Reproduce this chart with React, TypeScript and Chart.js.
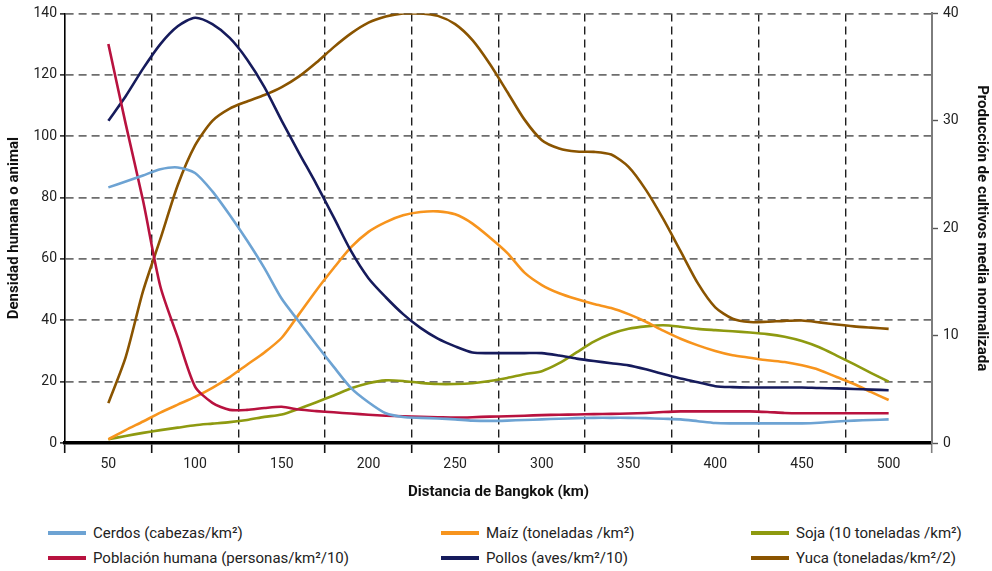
import React, { useEffect, useRef } from "react";
import { Chart, registerables } from "chart.js";

Chart.register(...registerables);

// Distance from Bangkok (km)
const distances = [
  50, 60, 70, 80, 90, 100, 110, 120, 130, 140, 150, 160, 170, 180, 190, 200,
  210, 220, 230, 240, 250, 260, 270, 280, 290, 300, 310, 320, 330, 340, 350,
  360, 370, 380, 390, 400, 410, 420, 430, 440, 450, 460, 470, 480, 490, 500,
];

const xTickLabels = [50, 100, 150, 200, 250, 300, 350, 400, 450, 500];
const xBoundaries = [25, 75, 125, 175, 225, 275, 325, 375, 425, 475, 525];

// Left axis (Densidad humana o animal)
const cerdos = [
  83.3, 85.2, 87.2, 89.2, 89.8, 88, 82, 74.3, 66, 57, 47, 39.5, 32, 24.8, 17.9,
  13.3, 9.7, 8.5, 8.2, 8, 7.7, 7.3, 7.2, 7.3, 7.5, 7.7, 7.9, 8.1, 8.2, 8.2, 8.2,
  8.1, 7.9, 7.7, 7.1, 6.5, 6.4, 6.4, 6.4, 6.4, 6.4, 6.6, 7.0, 7.3, 7.5, 7.7,
];

const poblacion = [
  130, 104, 79, 51, 34.5, 18.4, 13.1, 10.8, 10.8, 11.4, 11.8, 10.9, 10.4, 10,
  9.6, 9.2, 8.9, 8.7, 8.5, 8.4, 8.3, 8.4, 8.6, 8.7, 8.9, 9.1, 9.2, 9.3, 9.4,
  9.5, 9.6, 9.8, 10.1, 10.3, 10.3, 10.3, 10.3, 10.3, 10.1, 9.8, 9.7, 9.7, 9.7,
  9.7, 9.7, 9.7,
];

const pollos = [
  105, 113, 122, 130, 135.8, 138.6, 136.5, 132, 125, 116, 105, 94.5, 84.3, 73.5,
  62.5, 53.7, 47.5, 42, 37.5, 34, 31.5, 29.5, 29.3, 29.3, 29.3, 29.3, 28.5,
  27.5, 26.7, 26, 25.3, 24, 22.5, 21, 19.8, 18.5, 18.2, 18.1, 18.1, 18.1, 18.1,
  17.9, 17.8, 17.6, 17.4, 17.2,
];

// Right axis (Producción de cultivos media normalizada)
const maiz = [
  0.34, 1.2, 2.0, 2.83, 3.57, 4.29, 5.14, 6.14, 7.29, 8.43, 9.8, 12.0, 14.23,
  16.29, 18.23, 19.66, 20.57, 21.2, 21.51, 21.57, 21.29, 20.43, 19.14, 17.71,
  15.86, 14.71, 13.94, 13.4, 12.94, 12.57, 12.0, 11.29, 10.46, 9.71, 9.09, 8.57,
  8.17, 7.94, 7.71, 7.54, 7.23, 6.8, 6.14, 5.49, 4.74, 4.0,
];

const soja = [
  0.34, 0.66, 0.94, 1.2, 1.43, 1.66, 1.8, 1.94, 2.14, 2.43, 2.66, 3.2, 3.8,
  4.43, 5.09, 5.57, 5.83, 5.77, 5.6, 5.49, 5.49, 5.57, 5.77, 6.06, 6.4, 6.69,
  7.43, 8.43, 9.43, 10.17, 10.63, 10.86, 10.97, 10.83, 10.63, 10.51, 10.4,
  10.29, 10.14, 9.89, 9.49, 8.91, 8.14, 7.34, 6.51, 5.71,
];

const yuca = [
  3.71, 8.0, 14.14, 19.0, 24.0, 27.71, 30.0, 31.14, 31.8, 32.4, 33.14, 34.14,
  35.43, 36.86, 38.14, 39.14, 39.71, 40.0, 40.0, 39.77, 39.0, 37.51, 35.29,
  32.71, 30.11, 28.2, 27.43, 27.14, 27.11, 26.86, 25.71, 23.57, 20.86, 17.86,
  14.86, 12.63, 11.57, 11.26, 11.29, 11.37, 11.4, 11.23, 11.03, 10.86, 10.74,
  10.63,
];

const seriesNames = [
  "Cerdos (cabezas/km²)",
  "Población humana (personas/km²/10)",
  "Pollos (aves/km²/10)",
  "Maíz (toneladas /km²)",
  "Soja (10 toneladas /km²)",
  "Yuca (toneladas/km²/2)",
];
const seriesColors = ["#6da3d3", "#b8123f", "#161b5c", "#f7941d", "#8e9a10", "#8a5400"];
const seriesValues = [cerdos, poblacion, pollos, maiz, soja, yuca];
const seriesAxis = ["y", "y", "y", "y1", "y1", "y1"];

// legend layout: [column, row] per series
const legendCells = [
  [0, 0],
  [0, 1],
  [1, 1],
  [1, 0],
  [2, 0],
  [2, 1],
];
const legendColX = [48, 441, 751];
const legendRowY = [533, 558];

const FONT = "Roboto, 'Noto Sans', 'DejaVu Sans', sans-serif";
const W = 992;
const CH = 515;

export default function App() {
  const ref = useRef<HTMLCanvasElement | null>(null);

  useEffect(() => {
    if (!ref.current) return;
    Chart.defaults.font.family = FONT;
    const datasets = seriesValues.map((vals, i) => ({
      label: seriesNames[i],
      data: distances.map((d, j) => ({ x: d, y: vals[j] })),
      borderColor: seriesColors[i],
      backgroundColor: seriesColors[i],
      borderWidth: 2.6,
      pointRadius: 0,
      tension: 0.25,
      yAxisID: seriesAxis[i],
      fill: false,
    }));

    const chart = new Chart(ref.current, {
      type: "line",
      data: { datasets },
      options: {
        responsive: false,
        animation: false,
        devicePixelRatio: 1,
        layout: { padding: { top: 13, left: 0, right: 0, bottom: 0 } },
        plugins: { legend: { display: false }, tooltip: { enabled: false } },
        scales: {
          x: {
            type: "linear",
            position: "bottom",
            min: 25,
            max: 525,
            afterBuildTicks: (s: any) => {
              const vals = [...xBoundaries, ...xTickLabels].sort((a, b) => a - b);
              s.ticks = vals.map((v) => ({ value: v }));
            },
            afterFit: (s: any) => {
              s.height = 72;
            },
            ticks: {
              autoSkip: false,
              maxRotation: 0,
              padding: 3,
              color: "#222",
              font: { size: 14 },
              callback: (v: any) => (xTickLabels.includes(Number(v)) ? String(v) : ""),
            },
            grid: {
              color: (c: any) => {
                const v = c.tick ? c.tick.value : 0;
                return xBoundaries.includes(v) && v > 25 && v < 525 ? "#1e1e1e" : "rgba(0,0,0,0)";
              },
              tickColor: (c: any) => {
                const v = c.tick ? c.tick.value : 0;
                if (v === 525) return "#808080";
                return xBoundaries.includes(v) ? "#111" : "rgba(0,0,0,0)";
              },
              lineWidth: 1.4,
              tickWidth: 1.6,
              tickLength: 10,
            },
            border: { color: "#000", width: 3.5, dash: [8, 5] },
            title: {
              display: true,
              text: "Distancia de Bangkok (km)",
              color: "#111",
              font: { size: 15, weight: "bold" },
              padding: { top: 0, bottom: 14 },
            },
          },
          y: {
            type: "linear",
            position: "left",
            min: 0,
            max: 140,
            afterBuildTicks: (s: any) => {
              s.ticks = [0, 20, 40, 60, 80, 100, 120, 140].map((v) => ({ value: v }));
            },
            afterFit: (s: any) => {
              s.width = 65;
            },
            ticks: { color: "#222", font: { size: 14 }, padding: 3 },
            grid: {
              color: (c: any) => (c.tick && c.tick.value === 0 ? "rgba(0,0,0,0)" : "#6e6e6e"),
              lineWidth: 1.8,
              tickColor: "#111",
              tickLength: 5,
              tickWidth: 1.4,
            },
            border: { color: "#000", width: 1.6, dash: [8, 5] },
            title: {
              display: true,
              text: "Densidad humana o animal",
              color: "#111",
              font: { size: 15, weight: "bold" },
              padding: { top: 5, bottom: 0 },
            },
          },
          y1: {
            type: "linear",
            position: "right",
            min: 0,
            max: 40,
            afterBuildTicks: (s: any) => {
              s.ticks = [0, 10, 20, 30, 40].map((v) => ({ value: v }));
            },
            afterFit: (s: any) => {
              s.width = 60;
            },
            ticks: { color: "#222", font: { size: 14 }, padding: 5 },
            grid: {
              drawOnChartArea: false,
              tickColor: "#555",
              tickLength: 6,
              tickWidth: 1.4,
            },
            border: { color: "#7d7d7d", width: 2 },
            title: {
              display: true,
              text: "Producción de cultivos media normalizada",
              color: "#111",
              font: { size: 15, weight: "bold" },
              padding: { top: 1, bottom: 0 },
            },
          },
        },
      },
    } as any);

    return () => chart.destroy();
  }, []);

  return (
    <div style={{ position: "absolute", left: 0, top: 0, width: W, height: 571, background: "#fff", fontFamily: FONT }}>
      <canvas ref={ref} width={W} height={CH} style={{ display: "block", width: W, height: CH }} />
      {seriesNames.map((name, i) => {
        const [col, row] = legendCells[i];
        return (
          <div
            key={name}
            style={{
              position: "absolute",
              left: legendColX[col],
              top: legendRowY[row] - 10,
              height: 20,
              display: "flex",
              alignItems: "center",
              whiteSpace: "nowrap",
            }}
          >
            <span style={{ display: "inline-block", width: 38, height: 4, background: seriesColors[i], marginRight: 7 }} />
            <span style={{ fontSize: 15, color: "#222", lineHeight: "20px" }}>{name}</span>
          </div>
        );
      })}
    </div>
  );
}
